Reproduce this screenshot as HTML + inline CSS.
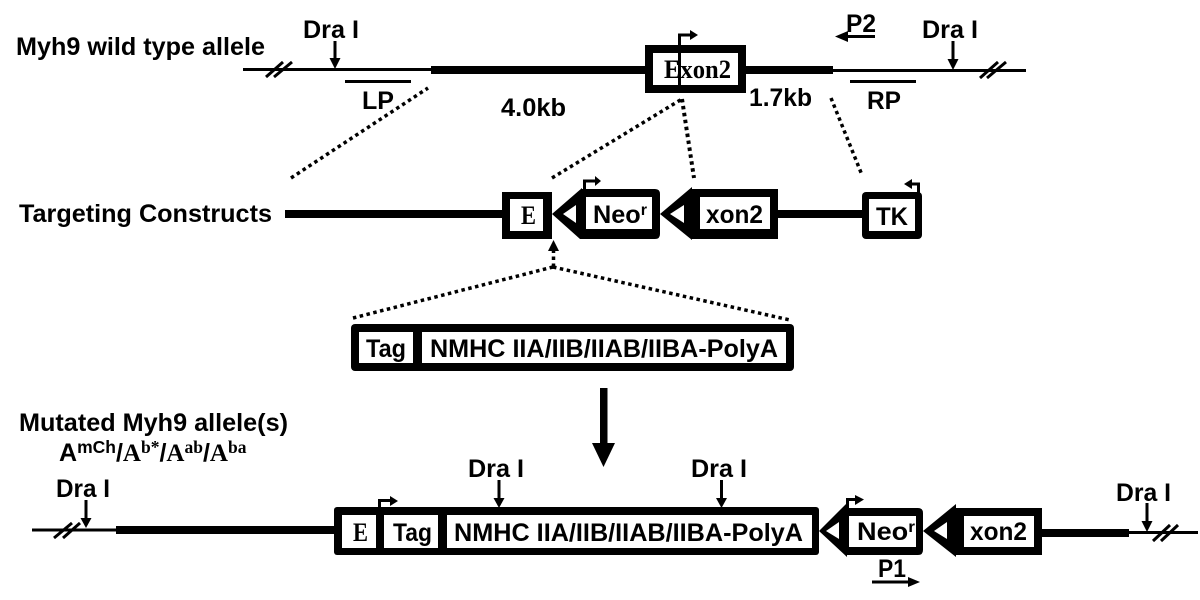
<!DOCTYPE html>
<html><head><meta charset="utf-8"><style>
html,body{margin:0;padding:0;background:#fff}
svg{display:block}
text{font-family:"Liberation Sans",sans-serif;font-weight:bold;fill:#000;font-size:25px}
.s{font-family:"Liberation Serif",serif}
.d{stroke:#000;stroke-width:3.5;stroke-dasharray:3.5 3.5;fill:none}
.t{stroke:#000;stroke-width:3;fill:none}
.k{fill:#000}.w{fill:#fff}
</style></head><body>
<svg width="1200" height="600" viewBox="0 0 1200 600" xmlns="http://www.w3.org/2000/svg">
<rect width="1200" height="600" fill="#fff"/>

<!-- Row 1 -->
<text x="16" y="55" textLength="249" lengthAdjust="spacingAndGlyphs">Myh9 wild type allele</text>
<path class="t" d="M243 69.500H431M266 77L283 62M274 77L292 62"/>
<rect class="k" x="431" y="66" width="217" height="8"/>
<rect class="k" x="645" y="45" width="101" height="48"/>
<rect class="w" x="653" y="53" width="85" height="32"/>
<rect class="k" x="746" y="66" width="87" height="8"/>
<path class="t" d="M833 70.500H1026M980 78L998 62M987 78L1006 62"/>
<text x="303" y="38" textLength="56" lengthAdjust="spacingAndGlyphs">Dra I</text>
<path class="t" d="M335 41V60"/><path class="k" d="M329.500 58H340.500L335 69Z"/>
<path class="t" d="M345 81.500H411M850 81.500H916"/>
<text x="362" y="109" textLength="32" lengthAdjust="spacingAndGlyphs">LP</text>
<text x="501" y="116" textLength="65" lengthAdjust="spacingAndGlyphs">4.0kb</text>
<text class="s" x="664" y="78" textLength="67" lengthAdjust="spacingAndGlyphs" style="font-size:26px">Exon2</text>
<path class="t" d="M679.500 93V35H691"/><path class="k" d="M690 30V40L698 35Z"/>
<text x="846" y="32" textLength="30" lengthAdjust="spacingAndGlyphs">P2</text>
<path class="t" d="M846 36.500H875"/><path class="k" d="M835 36.500L848 31V42Z"/>
<text x="922" y="38" textLength="56" lengthAdjust="spacingAndGlyphs">Dra I</text>
<path class="t" d="M953 41V60"/><path class="k" d="M947.500 59H958.500L953 70Z"/>
<text x="749" y="106" textLength="63" lengthAdjust="spacingAndGlyphs">1.7kb</text>
<text x="867" y="109" textLength="34" lengthAdjust="spacingAndGlyphs">RP</text>

<!-- Dotted -->
<path class="d" d="M291 178L428 88M552 178L682 99"/>
<path class="d" d="M682 99L694 178" style="stroke-width:4"/>
<path class="d" d="M831 98L862 175"/>

<!-- Row 2 -->
<text x="19" y="222" textLength="253" lengthAdjust="spacingAndGlyphs">Targeting Constructs</text>
<rect class="k" x="285" y="210" width="220" height="8"/>
<rect class="k" x="502" y="192" width="50" height="47"/>
<rect class="w" x="510" y="199" width="33" height="32"/>
<text class="s" x="521" y="224" textLength="15" lengthAdjust="spacingAndGlyphs" style="font-size:26px">E</text>
<path class="k" d="M552 214L582 188V189H655Q660 189 660 194V234Q660 239 655 239H582L580 239Z"/>
<rect class="w" x="586" y="197" width="66" height="32"/>
<path class="w" d="M563 214L576 205V223Z"/>
<text x="593" y="223" textLength="54" lengthAdjust="spacingAndGlyphs">Neo<tspan dy="-8" style="font-size:16px">r</tspan></text>
<path class="t" d="M584.500 190V181H596"/><path class="k" d="M595 176V186L601 181Z"/>
<path class="k" d="M660 214L692 187V189H778V239H692V240Z"/>
<rect class="w" x="700" y="197" width="70" height="32"/>
<path class="w" d="M670 214L684 205V223Z"/>
<text x="706" y="223" textLength="57" lengthAdjust="spacingAndGlyphs">xon2</text>
<rect class="k" x="778" y="210" width="86" height="8"/>
<rect class="k" x="862" y="192" width="60" height="47" rx="4"/>
<rect class="w" x="869" y="199" width="46" height="32"/>
<text x="876" y="225" textLength="32" lengthAdjust="spacingAndGlyphs">TK</text>
<path class="t" d="M918.500 193V184H911"/><path class="k" d="M912 179V189L904 184Z"/>

<!-- Dotted up arrow -->
<path class="d" d="M553.500 267V250"/>
<path class="k" d="M553.500 240L559 251H548Z"/>
<path class="d" d="M553 267L353 318M553 267L790 320"/>

<!-- Tag box -->
<rect class="k" x="351" y="324" width="443" height="47" rx="4"/>
<rect class="w" x="359" y="332" width="54" height="31"/>
<rect class="w" x="422" y="332" width="364" height="31"/>
<text x="366" y="357" textLength="40" lengthAdjust="spacingAndGlyphs">Tag</text>
<text x="430" y="357" textLength="348" lengthAdjust="spacingAndGlyphs">NMHC IIA/IIB/IIAB/IIBA-PolyA</text>

<!-- Big arrow -->
<rect class="k" x="600" y="388" width="7.500" height="56"/>
<path class="k" d="M592 443H615L603.500 467Z"/>

<!-- Row 3 -->
<text x="19" y="431" textLength="269" lengthAdjust="spacingAndGlyphs">Mutated Myh9 allele(s)</text>
<text x="59" y="461">A<tspan dy="-8" style="font-size:17.5px">mCh</tspan><tspan dy="8">/</tspan><tspan class="s">A</tspan><tspan class="s" dy="-8" style="font-size:17.5px">b*</tspan><tspan dy="8">/</tspan><tspan class="s">A</tspan><tspan class="s" dy="-8" style="font-size:17.5px">ab</tspan><tspan dy="8">/</tspan><tspan class="s">A</tspan><tspan class="s" dy="-8" style="font-size:17.5px">ba</tspan></text>

<text x="56" y="497" textLength="54" lengthAdjust="spacingAndGlyphs">Dra I</text>
<path class="t" d="M86 500V520"/><path class="k" d="M80.500 518H91.500L86 528Z"/>
<path class="t" d="M32 530H116M54 538L72 523M63 538L80 523"/>
<rect class="k" x="116" y="526" width="220" height="8"/>

<rect class="k" x="334" y="507" width="485" height="48" rx="3"/>
<rect class="w" x="342" y="515" width="34" height="33"/>
<rect class="w" x="384" y="515" width="54" height="33"/>
<rect class="w" x="447" y="515" width="365" height="33"/>
<text class="s" x="353" y="541" textLength="15" lengthAdjust="spacingAndGlyphs" style="font-size:26px">E</text>
<text x="393" y="541" textLength="39" lengthAdjust="spacingAndGlyphs">Tag</text>
<text x="454" y="541" textLength="349" lengthAdjust="spacingAndGlyphs">NMHC IIA/IIB/IIAB/IIBA-PolyA</text>
<path class="t" d="M379.500 508V500.500H391"/><path class="k" d="M390 496V506L398 501Z"/>
<text x="468" y="477" textLength="56" lengthAdjust="spacingAndGlyphs">Dra I</text>
<path class="t" d="M499 480V500"/><path class="k" d="M493.500 498H504.500L499 508Z"/>
<text x="691" y="477" textLength="56" lengthAdjust="spacingAndGlyphs">Dra I</text>
<path class="t" d="M721.500 480V500"/><path class="k" d="M716 498H727L721.500 508Z"/>

<path class="k" d="M819 531L847 503V508H918Q923 508 923 513V550Q923 555 918 555H847V557Z"/>
<rect class="w" x="849" y="516" width="67" height="31"/>
<path class="w" d="M826 531L839 522V539Z"/>
<text x="857" y="540" textLength="58" lengthAdjust="spacingAndGlyphs">Neo<tspan dy="-8" style="font-size:16px">r</tspan></text>
<path class="t" d="M847.500 510V499.500H856"/><path class="k" d="M855 495V505L864 499.500Z"/>
<path class="k" d="M923 531L956 504V508H1042V555H956V557Z"/>
<rect class="w" x="964" y="516" width="70" height="31"/>
<path class="w" d="M934 531L947 522V539Z"/>
<text x="970" y="540" textLength="57" lengthAdjust="spacingAndGlyphs">xon2</text>
<rect class="k" x="1042" y="529" width="87" height="8"/>
<path class="t" d="M1129 532.500H1198M1153 541L1170 525M1161 541L1178 525"/>
<text x="1116" y="501" textLength="55" lengthAdjust="spacingAndGlyphs">Dra I</text>
<path class="t" d="M1147 503V523"/><path class="k" d="M1141.500 521H1152.500L1147 532Z"/>
<text x="878" y="577" textLength="28" lengthAdjust="spacingAndGlyphs">P1</text>
<path class="t" d="M872 582H910"/><path class="k" d="M908 577V587L920 582Z"/>
</svg>
</body></html>
